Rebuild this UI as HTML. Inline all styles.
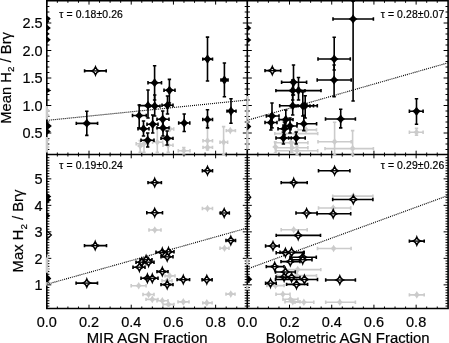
<!DOCTYPE html><html><head><meta charset="utf-8"><style>html,body{margin:0;padding:0;background:#fff;overflow:hidden}svg{display:block;will-change:transform}text{font-family:"Liberation Sans",sans-serif;fill:#000;stroke:#000;stroke-width:0.2px}</style></head><body>
<svg width="449" height="343" viewBox="0 0 449 343">
<rect width="449" height="343" fill="#fff"/>
<path d="M46.8 0.8v3.8M46.8 154.5v-3.8M46.8 154.5v3.8M46.8 308.5v-3.8M57.35 0.8v2.0M57.35 154.5v-2.0M57.35 154.5v2.0M57.35 308.5v-2.0M67.91 0.8v2.0M67.91 154.5v-2.0M67.91 154.5v2.0M67.91 308.5v-2.0M78.46 0.8v2.0M78.46 154.5v-2.0M78.46 154.5v2.0M78.46 308.5v-2.0M89.01 0.8v3.8M89.01 154.5v-3.8M89.01 154.5v3.8M89.01 308.5v-3.8M99.56 0.8v2.0M99.56 154.5v-2.0M99.56 154.5v2.0M99.56 308.5v-2.0M110.12 0.8v2.0M110.12 154.5v-2.0M110.12 154.5v2.0M110.12 308.5v-2.0M120.67 0.8v2.0M120.67 154.5v-2.0M120.67 154.5v2.0M120.67 308.5v-2.0M131.22 0.8v3.8M131.22 154.5v-3.8M131.22 154.5v3.8M131.22 308.5v-3.8M141.77 0.8v2.0M141.77 154.5v-2.0M141.77 154.5v2.0M141.77 308.5v-2.0M152.33 0.8v2.0M152.33 154.5v-2.0M152.33 154.5v2.0M152.33 308.5v-2.0M162.88 0.8v2.0M162.88 154.5v-2.0M162.88 154.5v2.0M162.88 308.5v-2.0M173.43 0.8v3.8M173.43 154.5v-3.8M173.43 154.5v3.8M173.43 308.5v-3.8M183.98 0.8v2.0M183.98 154.5v-2.0M183.98 154.5v2.0M183.98 308.5v-2.0M194.54 0.8v2.0M194.54 154.5v-2.0M194.54 154.5v2.0M194.54 308.5v-2.0M205.09 0.8v2.0M205.09 154.5v-2.0M205.09 154.5v2.0M205.09 308.5v-2.0M215.64 0.8v3.8M215.64 154.5v-3.8M215.64 154.5v3.8M215.64 308.5v-3.8M226.19 0.8v2.0M226.19 154.5v-2.0M226.19 154.5v2.0M226.19 308.5v-2.0M236.75 0.8v2.0M236.75 154.5v-2.0M236.75 154.5v2.0M236.75 308.5v-2.0M247.3 0.8v3.8M247.3 154.5v-3.8M247.3 154.5v3.8M247.3 308.5v-3.8M257.85 0.8v2.0M257.85 154.5v-2.0M257.85 154.5v2.0M257.85 308.5v-2.0M268.41 0.8v2.0M268.41 154.5v-2.0M268.41 154.5v2.0M268.41 308.5v-2.0M278.96 0.8v2.0M278.96 154.5v-2.0M278.96 154.5v2.0M278.96 308.5v-2.0M289.51 0.8v3.8M289.51 154.5v-3.8M289.51 154.5v3.8M289.51 308.5v-3.8M300.06 0.8v2.0M300.06 154.5v-2.0M300.06 154.5v2.0M300.06 308.5v-2.0M310.62 0.8v2.0M310.62 154.5v-2.0M310.62 154.5v2.0M310.62 308.5v-2.0M321.17 0.8v2.0M321.17 154.5v-2.0M321.17 154.5v2.0M321.17 308.5v-2.0M331.72 0.8v3.8M331.72 154.5v-3.8M331.72 154.5v3.8M331.72 308.5v-3.8M342.27 0.8v2.0M342.27 154.5v-2.0M342.27 154.5v2.0M342.27 308.5v-2.0M352.83 0.8v2.0M352.83 154.5v-2.0M352.83 154.5v2.0M352.83 308.5v-2.0M363.38 0.8v2.0M363.38 154.5v-2.0M363.38 154.5v2.0M363.38 308.5v-2.0M373.93 0.8v3.8M373.93 154.5v-3.8M373.93 154.5v3.8M373.93 308.5v-3.8M384.48 0.8v2.0M384.48 154.5v-2.0M384.48 154.5v2.0M384.48 308.5v-2.0M395.04 0.8v2.0M395.04 154.5v-2.0M395.04 154.5v2.0M395.04 308.5v-2.0M405.59 0.8v2.0M405.59 154.5v-2.0M405.59 154.5v2.0M405.59 308.5v-2.0M416.14 0.8v3.8M416.14 154.5v-3.8M416.14 154.5v3.8M416.14 308.5v-3.8M426.69 0.8v2.0M426.69 154.5v-2.0M426.69 154.5v2.0M426.69 308.5v-2.0M437.25 0.8v2.0M437.25 154.5v-2.0M437.25 154.5v2.0M437.25 308.5v-2.0M46.8 149.5h2.6M247.3 149.5h-2.6M247.3 149.5h2.6M448.1 149.5h-2.6M46.8 144h2.6M247.3 144h-2.6M247.3 144h2.6M448.1 144h-2.6M46.8 138.5h2.6M247.3 138.5h-2.6M247.3 138.5h2.6M448.1 138.5h-2.6M46.8 133h4.5M247.3 133h-4.5M247.3 133h4.5M448.1 133h-4.5M46.8 127.5h2.6M247.3 127.5h-2.6M247.3 127.5h2.6M448.1 127.5h-2.6M46.8 122h2.6M247.3 122h-2.6M247.3 122h2.6M448.1 122h-2.6M46.8 116.5h2.6M247.3 116.5h-2.6M247.3 116.5h2.6M448.1 116.5h-2.6M46.8 111h2.6M247.3 111h-2.6M247.3 111h2.6M448.1 111h-2.6M46.8 105.5h4.5M247.3 105.5h-4.5M247.3 105.5h4.5M448.1 105.5h-4.5M46.8 100h2.6M247.3 100h-2.6M247.3 100h2.6M448.1 100h-2.6M46.8 94.5h2.6M247.3 94.5h-2.6M247.3 94.5h2.6M448.1 94.5h-2.6M46.8 89h2.6M247.3 89h-2.6M247.3 89h2.6M448.1 89h-2.6M46.8 83.5h2.6M247.3 83.5h-2.6M247.3 83.5h2.6M448.1 83.5h-2.6M46.8 78h4.5M247.3 78h-4.5M247.3 78h4.5M448.1 78h-4.5M46.8 72.5h2.6M247.3 72.5h-2.6M247.3 72.5h2.6M448.1 72.5h-2.6M46.8 67h2.6M247.3 67h-2.6M247.3 67h2.6M448.1 67h-2.6M46.8 61.5h2.6M247.3 61.5h-2.6M247.3 61.5h2.6M448.1 61.5h-2.6M46.8 56h2.6M247.3 56h-2.6M247.3 56h2.6M448.1 56h-2.6M46.8 50.5h4.5M247.3 50.5h-4.5M247.3 50.5h4.5M448.1 50.5h-4.5M46.8 45h2.6M247.3 45h-2.6M247.3 45h2.6M448.1 45h-2.6M46.8 39.5h2.6M247.3 39.5h-2.6M247.3 39.5h2.6M448.1 39.5h-2.6M46.8 34h2.6M247.3 34h-2.6M247.3 34h2.6M448.1 34h-2.6M46.8 28.5h2.6M247.3 28.5h-2.6M247.3 28.5h2.6M448.1 28.5h-2.6M46.8 23h4.5M247.3 23h-4.5M247.3 23h4.5M448.1 23h-4.5M46.8 17.5h2.6M247.3 17.5h-2.6M247.3 17.5h2.6M448.1 17.5h-2.6M46.8 12h2.6M247.3 12h-2.6M247.3 12h2.6M448.1 12h-2.6M46.8 6.5h2.6M247.3 6.5h-2.6M247.3 6.5h2.6M448.1 6.5h-2.6M46.8 306.05h2.6M247.3 306.05h-2.6M247.3 306.05h2.6M448.1 306.05h-2.6M46.8 303.4h2.6M247.3 303.4h-2.6M247.3 303.4h2.6M448.1 303.4h-2.6M46.8 300.75h2.6M247.3 300.75h-2.6M247.3 300.75h2.6M448.1 300.75h-2.6M46.8 298.1h2.6M247.3 298.1h-2.6M247.3 298.1h2.6M448.1 298.1h-2.6M46.8 295.45h2.6M247.3 295.45h-2.6M247.3 295.45h2.6M448.1 295.45h-2.6M46.8 292.8h2.6M247.3 292.8h-2.6M247.3 292.8h2.6M448.1 292.8h-2.6M46.8 290.15h2.6M247.3 290.15h-2.6M247.3 290.15h2.6M448.1 290.15h-2.6M46.8 287.5h2.6M247.3 287.5h-2.6M247.3 287.5h2.6M448.1 287.5h-2.6M46.8 284.85h4.5M247.3 284.85h-4.5M247.3 284.85h4.5M448.1 284.85h-4.5M46.8 282.2h2.6M247.3 282.2h-2.6M247.3 282.2h2.6M448.1 282.2h-2.6M46.8 279.55h2.6M247.3 279.55h-2.6M247.3 279.55h2.6M448.1 279.55h-2.6M46.8 276.9h2.6M247.3 276.9h-2.6M247.3 276.9h2.6M448.1 276.9h-2.6M46.8 274.25h2.6M247.3 274.25h-2.6M247.3 274.25h2.6M448.1 274.25h-2.6M46.8 271.6h2.6M247.3 271.6h-2.6M247.3 271.6h2.6M448.1 271.6h-2.6M46.8 268.95h2.6M247.3 268.95h-2.6M247.3 268.95h2.6M448.1 268.95h-2.6M46.8 266.3h2.6M247.3 266.3h-2.6M247.3 266.3h2.6M448.1 266.3h-2.6M46.8 263.65h2.6M247.3 263.65h-2.6M247.3 263.65h2.6M448.1 263.65h-2.6M46.8 261h2.6M247.3 261h-2.6M247.3 261h2.6M448.1 261h-2.6M46.8 258.35h4.5M247.3 258.35h-4.5M247.3 258.35h4.5M448.1 258.35h-4.5M46.8 255.7h2.6M247.3 255.7h-2.6M247.3 255.7h2.6M448.1 255.7h-2.6M46.8 253.05h2.6M247.3 253.05h-2.6M247.3 253.05h2.6M448.1 253.05h-2.6M46.8 250.4h2.6M247.3 250.4h-2.6M247.3 250.4h2.6M448.1 250.4h-2.6M46.8 247.75h2.6M247.3 247.75h-2.6M247.3 247.75h2.6M448.1 247.75h-2.6M46.8 245.1h2.6M247.3 245.1h-2.6M247.3 245.1h2.6M448.1 245.1h-2.6M46.8 242.45h2.6M247.3 242.45h-2.6M247.3 242.45h2.6M448.1 242.45h-2.6M46.8 239.8h2.6M247.3 239.8h-2.6M247.3 239.8h2.6M448.1 239.8h-2.6M46.8 237.15h2.6M247.3 237.15h-2.6M247.3 237.15h2.6M448.1 237.15h-2.6M46.8 234.5h2.6M247.3 234.5h-2.6M247.3 234.5h2.6M448.1 234.5h-2.6M46.8 231.85h4.5M247.3 231.85h-4.5M247.3 231.85h4.5M448.1 231.85h-4.5M46.8 229.2h2.6M247.3 229.2h-2.6M247.3 229.2h2.6M448.1 229.2h-2.6M46.8 226.55h2.6M247.3 226.55h-2.6M247.3 226.55h2.6M448.1 226.55h-2.6M46.8 223.9h2.6M247.3 223.9h-2.6M247.3 223.9h2.6M448.1 223.9h-2.6M46.8 221.25h2.6M247.3 221.25h-2.6M247.3 221.25h2.6M448.1 221.25h-2.6M46.8 218.6h2.6M247.3 218.6h-2.6M247.3 218.6h2.6M448.1 218.6h-2.6M46.8 215.95h2.6M247.3 215.95h-2.6M247.3 215.95h2.6M448.1 215.95h-2.6M46.8 213.3h2.6M247.3 213.3h-2.6M247.3 213.3h2.6M448.1 213.3h-2.6M46.8 210.65h2.6M247.3 210.65h-2.6M247.3 210.65h2.6M448.1 210.65h-2.6M46.8 208h2.6M247.3 208h-2.6M247.3 208h2.6M448.1 208h-2.6M46.8 205.35h4.5M247.3 205.35h-4.5M247.3 205.35h4.5M448.1 205.35h-4.5M46.8 202.7h2.6M247.3 202.7h-2.6M247.3 202.7h2.6M448.1 202.7h-2.6M46.8 200.05h2.6M247.3 200.05h-2.6M247.3 200.05h2.6M448.1 200.05h-2.6M46.8 197.4h2.6M247.3 197.4h-2.6M247.3 197.4h2.6M448.1 197.4h-2.6M46.8 194.75h2.6M247.3 194.75h-2.6M247.3 194.75h2.6M448.1 194.75h-2.6M46.8 192.1h2.6M247.3 192.1h-2.6M247.3 192.1h2.6M448.1 192.1h-2.6M46.8 189.45h2.6M247.3 189.45h-2.6M247.3 189.45h2.6M448.1 189.45h-2.6M46.8 186.8h2.6M247.3 186.8h-2.6M247.3 186.8h2.6M448.1 186.8h-2.6M46.8 184.15h2.6M247.3 184.15h-2.6M247.3 184.15h2.6M448.1 184.15h-2.6M46.8 181.5h2.6M247.3 181.5h-2.6M247.3 181.5h2.6M448.1 181.5h-2.6M46.8 178.85h4.5M247.3 178.85h-4.5M247.3 178.85h4.5M448.1 178.85h-4.5M46.8 176.2h2.6M247.3 176.2h-2.6M247.3 176.2h2.6M448.1 176.2h-2.6M46.8 173.55h2.6M247.3 173.55h-2.6M247.3 173.55h2.6M448.1 173.55h-2.6M46.8 170.9h2.6M247.3 170.9h-2.6M247.3 170.9h2.6M448.1 170.9h-2.6M46.8 168.25h2.6M247.3 168.25h-2.6M247.3 168.25h2.6M448.1 168.25h-2.6M46.8 165.6h2.6M247.3 165.6h-2.6M247.3 165.6h2.6M448.1 165.6h-2.6M46.8 162.95h2.6M247.3 162.95h-2.6M247.3 162.95h2.6M448.1 162.95h-2.6M46.8 160.3h2.6M247.3 160.3h-2.6M247.3 160.3h2.6M448.1 160.3h-2.6M46.8 157.65h2.6M247.3 157.65h-2.6M247.3 157.65h2.6M448.1 157.65h-2.6" stroke="#000" stroke-width="1" fill="none"/>
<path d="M46.8 0.8H448.1V308.5H46.8ZM247.3 0.8V308.5M46.8 154.5H448.1" stroke="#000" stroke-width="1.6" fill="none"/>
<path d="M46.8 106V119.5M46.8 137V152.5M247.3 96V149.5M46.8 257.5V272.8M46.8 282V285.5M247.3 258.5V265M247.3 285V290" stroke="#cbcbcb" stroke-width="2.2" fill="none"/>
<path d="M46.8 120.4L247.3 100M247.3 120.3L448.1 62.8M46.8 284.3L247.3 228M247.3 269L448.1 195.5" stroke="#000" stroke-width="1.15" stroke-dasharray="1 1" fill="none"/>
<path d="M46.8 15.2L50.8 18.7L46.8 22.2Z" fill="#000"/>
<path d="M46.8 24.5L50.8 28L46.8 31.5Z" fill="#000"/>
<path d="M46.8 36.2L50.8 39.7L46.8 43.2Z" fill="#000"/>
<path d="M46.8 19.1L49.3 21.6L46.8 24.1Z" fill="#000"/>
<path d="M46.8 31.3L49.3 33.8L46.8 36.3Z" fill="#000"/>
<path d="M46.8 88L51.3 90.5L46.8 93Z" fill="#000"/>
<path d="M46.8 121.5L51.8 126L46.8 130.5Z" fill="#000"/>
<path d="M46.8 128L50.8 131.5L46.8 135Z" fill="#000"/>
<path d="M46.8 107.5L49.8 110.5L46.8 113.5Z" fill="#cbcbcb"/>
<path d="M46.8 112.2L49.8 115.2L46.8 118.2Z" fill="#cbcbcb"/>
<path d="M46.8 137L49.8 140L46.8 143Z" fill="#cbcbcb"/>
<path d="M46.8 144L49.8 147L46.8 150Z" fill="#cbcbcb"/>
<path d="M136.2 143.7H148.7M136.2 142V145.4M148.7 142V145.4" stroke="#cbcbcb" stroke-width="1.6" fill="none"/><path d="M144 140.6V152.3M142.3 140.6H145.7M142.3 152.3H145.7" stroke="#cbcbcb" stroke-width="1.6" fill="none"/><path d="M144 139.9Q145.12 142.37 147.2 143.7Q145.12 145.03 144 147.5Q142.88 145.03 140.8 143.7Q142.88 142.37 144 139.9Z" fill="#cbcbcb"/>
<path d="M140.2 140.6V152.3M138.5 140.6H141.9M138.5 152.3H141.9" stroke="#cbcbcb" stroke-width="1.6" fill="none"/><path d="M140.2 142.2Q141.32 144.67 143.4 146Q141.32 147.33 140.2 149.8Q139.08 147.33 137 146Q139.08 144.67 140.2 142.2Z" fill="#cbcbcb"/>
<path d="M152.6 142.2H162.7M152.6 140.5V143.9M162.7 140.5V143.9" stroke="#cbcbcb" stroke-width="1.6" fill="none"/><path d="M157.3 128V152.3M155.6 128H159M155.6 152.3H159" stroke="#cbcbcb" stroke-width="1.6" fill="none"/><path d="M157.3 138.4Q158.42 140.87 160.5 142.2Q158.42 143.53 157.3 146Q156.18 143.53 154.1 142.2Q156.18 140.87 157.3 138.4Z" fill="#cbcbcb"/>
<path d="M163 145.3H173M163 143.6V147M173 143.6V147" stroke="#cbcbcb" stroke-width="1.6" fill="none"/><path d="M168.2 140.5V152.3M166.5 140.5H169.9M166.5 152.3H169.9" stroke="#cbcbcb" stroke-width="1.6" fill="none"/><path d="M168.2 141.5Q169.32 143.97 171.4 145.3Q169.32 146.63 168.2 149.1Q167.08 146.63 165 145.3Q167.08 143.97 168.2 141.5Z" fill="#cbcbcb"/>
<path d="M178.3 150.7H190M178.3 149V152.4M190 149V152.4" stroke="#cbcbcb" stroke-width="1.6" fill="none"/><path d="M183.8 147.6V153.8M182.1 147.6H185.5M182.1 153.8H185.5" stroke="#cbcbcb" stroke-width="1.6" fill="none"/><path d="M183.8 146.9Q184.92 149.37 187 150.7Q184.92 152.03 183.8 154.5Q182.68 152.03 180.6 150.7Q182.68 149.37 183.8 146.9Z" fill="#cbcbcb"/>
<path d="M165.9 129H173.7M165.9 127.3V130.7M173.7 127.3V130.7" stroke="#cbcbcb" stroke-width="1.6" fill="none"/><path d="M169.8 125.2Q170.92 127.67 173 129Q170.92 130.33 169.8 132.8Q168.68 130.33 166.6 129Q168.68 127.67 169.8 125.2Z" fill="#cbcbcb"/>
<path d="M203 140.7H212.5M203 139V142.4M212.5 139V142.4" stroke="#cbcbcb" stroke-width="1.6" fill="none"/><path d="M207.5 126V150M205.8 126H209.2M205.8 150H209.2" stroke="#cbcbcb" stroke-width="1.6" fill="none"/><path d="M207.5 136.9Q208.62 139.37 210.7 140.7Q208.62 142.03 207.5 144.5Q206.38 142.03 204.3 140.7Q206.38 139.37 207.5 136.9Z" fill="#cbcbcb"/>
<path d="M203 147.4H212.5M203 145.7V149.1M212.5 145.7V149.1" stroke="#cbcbcb" stroke-width="1.6" fill="none"/><path d="M207.5 143.6Q208.62 146.07 210.7 147.4Q208.62 148.73 207.5 151.2Q206.38 148.73 204.3 147.4Q206.38 146.07 207.5 143.6Z" fill="#cbcbcb"/>
<path d="M226.3 130.6H235.4M226.3 128.9V132.3M235.4 128.9V132.3" stroke="#cbcbcb" stroke-width="1.6" fill="none"/><path d="M230.3 126.8Q231.42 129.27 233.5 130.6Q231.42 131.93 230.3 134.4Q229.18 131.93 227.1 130.6Q229.18 129.27 230.3 126.8Z" fill="#cbcbcb"/>
<path d="M220 142.3H227.6M220 140.6V144M227.6 140.6V144" stroke="#cbcbcb" stroke-width="1.6" fill="none"/><path d="M223.6 126.6V155M221.9 126.6H225.3M221.9 155H225.3" stroke="#cbcbcb" stroke-width="1.6" fill="none"/><path d="M223.6 138.5Q224.72 140.97 226.8 142.3Q224.72 143.63 223.6 146.1Q222.48 143.63 220.4 142.3Q222.48 140.97 223.6 138.5Z" fill="#cbcbcb"/>
<path d="M84.6 70.9H106.2M84.6 69.2V72.6M106.2 69.2V72.6" stroke="#000" stroke-width="1.6" fill="none"/><path d="M95.5 67Q96.51 69.81 99.1 70.9Q96.51 71.99 95.5 74.8Q94.49 71.99 91.9 70.9Q94.49 69.81 95.5 67Z" fill="#fff" stroke="#000" stroke-width="1.6"/><path d="M91.9 70.9H99.1" stroke="#000" stroke-width="1.3"/>
<path d="M76.3 123.4H97.6M76.3 121.7V125.1M97.6 121.7V125.1" stroke="#000" stroke-width="1.6" fill="none"/><path d="M86.8 111.3V135.4M85.1 111.3H88.5M85.1 135.4H88.5" stroke="#000" stroke-width="1.6" fill="none"/><path d="M86.8 118.6Q88.34 121.72 91.2 123.4Q88.34 125.08 86.8 128.2Q85.26 125.08 82.4 123.4Q85.26 121.72 86.8 118.6Z" fill="#000"/>
<path d="M148 82.7H161.5M148 81V84.4M161.5 81V84.4" stroke="#000" stroke-width="1.6" fill="none"/><path d="M154.6 65.8V100M152.9 65.8H156.3M152.9 100H156.3" stroke="#000" stroke-width="1.6" fill="none"/><path d="M154.6 77.9Q156.14 81.02 159 82.7Q156.14 84.38 154.6 87.5Q153.06 84.38 150.2 82.7Q153.06 81.02 154.6 77.9Z" fill="#000"/>
<path d="M164 90.3H175M164 88.6V92M175 88.6V92" stroke="#000" stroke-width="1.6" fill="none"/><path d="M169.4 79.4V103M167.7 79.4H171.1M167.7 103H171.1" stroke="#000" stroke-width="1.6" fill="none"/><path d="M169.4 85.5Q170.94 88.62 173.8 90.3Q170.94 91.98 169.4 95.1Q167.86 91.98 165 90.3Q167.86 88.62 169.4 85.5Z" fill="#000"/>
<path d="M139.4 105.6H154.6M139.4 103.9V107.3M154.6 103.9V107.3" stroke="#000" stroke-width="1.6" fill="none"/><path d="M148 90V118M146.3 90H149.7M146.3 118H149.7" stroke="#000" stroke-width="1.6" fill="none"/><path d="M148 100.8Q149.54 103.92 152.4 105.6Q149.54 107.28 148 110.4Q146.46 107.28 143.6 105.6Q146.46 103.92 148 100.8Z" fill="#000"/>
<path d="M150 106.1H160M150 104.4V107.8M160 104.4V107.8" stroke="#000" stroke-width="1.6" fill="none"/><path d="M154.7 95V116M153 95H156.4M153 116H156.4" stroke="#000" stroke-width="1.6" fill="none"/><path d="M154.7 101.3Q156.24 104.42 159.1 106.1Q156.24 107.78 154.7 110.9Q153.16 107.78 150.3 106.1Q153.16 104.42 154.7 101.3Z" fill="#000"/>
<path d="M162 105.3H173M162 103.6V107M173 103.6V107" stroke="#000" stroke-width="1.6" fill="none"/><path d="M167.5 96V114M165.8 96H169.2M165.8 114H169.2" stroke="#000" stroke-width="1.6" fill="none"/><path d="M167.5 100.5Q169.04 103.62 171.9 105.3Q169.04 106.98 167.5 110.1Q165.96 106.98 163.1 105.3Q165.96 103.62 167.5 100.5Z" fill="#000"/>
<path d="M132.5 115.5H146.3M132.5 113.8V117.2M146.3 113.8V117.2" stroke="#000" stroke-width="1.6" fill="none"/><path d="M139.2 105V128M137.5 105H140.9M137.5 128H140.9" stroke="#000" stroke-width="1.6" fill="none"/><path d="M139.2 110.7Q140.74 113.82 143.6 115.5Q140.74 117.18 139.2 120.3Q137.66 117.18 134.8 115.5Q137.66 113.82 139.2 110.7Z" fill="#000"/>
<path d="M147 124.3H158M147 122.6V126M158 122.6V126" stroke="#000" stroke-width="1.6" fill="none"/><path d="M152.7 115V133M151 115H154.4M151 133H154.4" stroke="#000" stroke-width="1.6" fill="none"/><path d="M152.7 119.5Q154.24 122.62 157.1 124.3Q154.24 125.98 152.7 129.1Q151.16 125.98 148.3 124.3Q151.16 122.62 152.7 119.5Z" fill="#000"/>
<path d="M157 119.3H169M157 117.6V121M169 117.6V121" stroke="#000" stroke-width="1.6" fill="none"/><path d="M162.7 111V127M161 111H164.4M161 127H164.4" stroke="#000" stroke-width="1.6" fill="none"/><path d="M162.7 114.5Q164.24 117.62 167.1 119.3Q164.24 120.98 162.7 124.1Q161.16 120.98 158.3 119.3Q161.16 117.62 162.7 114.5Z" fill="#000"/>
<path d="M157 127.9H169M157 126.2V129.6M169 126.2V129.6" stroke="#000" stroke-width="1.6" fill="none"/><path d="M163 120V136M161.3 120H164.7M161.3 136H164.7" stroke="#000" stroke-width="1.6" fill="none"/><path d="M163 123.1Q164.54 126.22 167.4 127.9Q164.54 129.58 163 132.7Q161.46 129.58 158.6 127.9Q161.46 126.22 163 123.1Z" fill="#000"/>
<path d="M138 128.7H149M138 127V130.4M149 127V130.4" stroke="#000" stroke-width="1.6" fill="none"/><path d="M143.5 121V136M141.8 121H145.2M141.8 136H145.2" stroke="#000" stroke-width="1.6" fill="none"/><path d="M143.5 123.9Q145.04 127.02 147.9 128.7Q145.04 130.38 143.5 133.5Q141.96 130.38 139.1 128.7Q141.96 127.02 143.5 123.9Z" fill="#000"/>
<path d="M141 140.3H154M141 138.6V142M154 138.6V142" stroke="#000" stroke-width="1.6" fill="none"/><path d="M147.7 133V147M146 133H149.4M146 147H149.4" stroke="#000" stroke-width="1.6" fill="none"/><path d="M147.7 135.5Q149.24 138.62 152.1 140.3Q149.24 141.98 147.7 145.1Q146.16 141.98 143.3 140.3Q146.16 138.62 147.7 135.5Z" fill="#000"/>
<path d="M161 138.4H173M161 136.7V140.1M173 136.7V140.1" stroke="#000" stroke-width="1.6" fill="none"/><path d="M167.1 131V145M165.4 131H168.8M165.4 145H168.8" stroke="#000" stroke-width="1.6" fill="none"/><path d="M167.1 133.6Q168.64 136.72 171.5 138.4Q168.64 140.08 167.1 143.2Q165.56 140.08 162.7 138.4Q165.56 136.72 167.1 133.6Z" fill="#000"/>
<path d="M178.7 123H189.8M178.7 121.3V124.7M189.8 121.3V124.7" stroke="#000" stroke-width="1.6" fill="none"/><path d="M184.2 114V131.5M182.5 114H185.9M182.5 131.5H185.9" stroke="#000" stroke-width="1.6" fill="none"/><path d="M184.2 118.2Q185.74 121.32 188.6 123Q185.74 124.68 184.2 127.8Q182.66 124.68 179.8 123Q182.66 121.32 184.2 118.2Z" fill="#000"/>
<path d="M202.8 59.1H212.5M202.8 57.4V60.8M212.5 57.4V60.8" stroke="#000" stroke-width="1.6" fill="none"/><path d="M207.5 37.1V81M205.8 37.1H209.2M205.8 81H209.2" stroke="#000" stroke-width="1.6" fill="none"/><path d="M207.5 54.3Q209.04 57.42 211.9 59.1Q209.04 60.78 207.5 63.9Q205.96 60.78 203.1 59.1Q205.96 57.42 207.5 54.3Z" fill="#000"/>
<path d="M221 80H228M221 78.3V81.7M228 78.3V81.7" stroke="#000" stroke-width="1.6" fill="none"/><path d="M224.4 63V96.7M222.7 63H226.1M222.7 96.7H226.1" stroke="#000" stroke-width="1.6" fill="none"/><path d="M224.4 75.2Q225.94 78.32 228.8 80Q225.94 81.68 224.4 84.8Q222.86 81.68 220 80Q222.86 78.32 224.4 75.2Z" fill="#000"/>
<path d="M227 111.1H236M227 109.4V112.8M236 109.4V112.8" stroke="#000" stroke-width="1.6" fill="none"/><path d="M231 98.7V123.2M229.3 98.7H232.7M229.3 123.2H232.7" stroke="#000" stroke-width="1.6" fill="none"/><path d="M231 106.3Q232.54 109.42 235.4 111.1Q232.54 112.78 231 115.9Q229.46 112.78 226.6 111.1Q229.46 109.42 231 106.3Z" fill="#000"/>
<path d="M202.8 119.5H212.5M202.8 117.8V121.2M212.5 117.8V121.2" stroke="#000" stroke-width="1.6" fill="none"/><path d="M207.5 109.8V127.9M205.8 109.8H209.2M205.8 127.9H209.2" stroke="#000" stroke-width="1.6" fill="none"/><path d="M207.5 114.7Q209.04 117.82 211.9 119.5Q209.04 121.18 207.5 124.3Q205.96 121.18 203.1 119.5Q205.96 117.82 207.5 114.7Z" fill="#000"/>
<path d="M247.3 122.5L251.3 126.5L247.3 130.5Z" fill="#000"/>
<path d="M247.3 24.5L251.3 28L247.3 31.5Z" fill="#000"/>
<path d="M247.3 36.4L251.3 39.9L247.3 43.4Z" fill="#000"/>
<path d="M318 141.7H351.2M318 140V143.4M351.2 140V143.4" stroke="#cbcbcb" stroke-width="1.6" fill="none"/><path d="M334.6 122.3V155M332.9 122.3H336.3M332.9 155H336.3" stroke="#cbcbcb" stroke-width="1.6" fill="none"/><path d="M334.6 137.9Q335.72 140.37 337.8 141.7Q335.72 143.03 334.6 145.5Q333.48 143.03 331.4 141.7Q333.48 140.37 334.6 137.9Z" fill="#cbcbcb"/>
<path d="M325 148.6H373.4M325 146.9V150.3M373.4 146.9V150.3" stroke="#cbcbcb" stroke-width="1.6" fill="none"/><path d="M352.6 130.6V155M350.9 130.6H354.3M350.9 155H354.3" stroke="#cbcbcb" stroke-width="1.6" fill="none"/><path d="M352.6 144.8Q353.72 147.27 355.8 148.6Q353.72 149.93 352.6 152.4Q351.48 149.93 349.4 148.6Q351.48 147.27 352.6 144.8Z" fill="#cbcbcb"/>
<path d="M409.4 132.2H423.1M409.4 130.5V133.9M423.1 130.5V133.9" stroke="#cbcbcb" stroke-width="1.6" fill="none"/><path d="M416.5 128.4V135.3M414.8 128.4H418.2M414.8 135.3H418.2" stroke="#cbcbcb" stroke-width="1.6" fill="none"/><path d="M416.5 128.4Q417.62 130.87 419.7 132.2Q417.62 133.53 416.5 136Q415.38 133.53 413.3 132.2Q415.38 130.87 416.5 128.4Z" fill="#cbcbcb"/>
<path d="M298 129.9H316.5M298 128.2V131.6M316.5 128.2V131.6" stroke="#cbcbcb" stroke-width="1.6" fill="none"/><path d="M306 126.1Q307.12 128.57 309.2 129.9Q307.12 131.23 306 133.7Q304.88 131.23 302.8 129.9Q304.88 128.57 306 126.1Z" fill="#cbcbcb"/>
<path d="M274.8 133.6H317.7M274.8 131.9V135.3M317.7 131.9V135.3" stroke="#cbcbcb" stroke-width="1.6" fill="none"/><path d="M296 129.8Q297.12 132.27 299.2 133.6Q297.12 134.93 296 137.4Q294.88 134.93 292.8 133.6Q294.88 132.27 296 129.8Z" fill="#cbcbcb"/>
<path d="M274.8 142.8H307.9M274.8 141.1V144.5M307.9 141.1V144.5" stroke="#cbcbcb" stroke-width="1.6" fill="none"/><path d="M291 138V153M289.3 138H292.7M289.3 153H292.7" stroke="#cbcbcb" stroke-width="1.6" fill="none"/><path d="M291 139Q292.12 141.47 294.2 142.8Q292.12 144.13 291 146.6Q289.88 144.13 287.8 142.8Q289.88 141.47 291 139Z" fill="#cbcbcb"/>
<path d="M276 147.7H307.9M276 146V149.4M307.9 146V149.4" stroke="#cbcbcb" stroke-width="1.6" fill="none"/><path d="M292 142V153M290.3 142H293.7M290.3 153H293.7" stroke="#cbcbcb" stroke-width="1.6" fill="none"/><path d="M292 143.9Q293.12 146.37 295.2 147.7Q293.12 149.03 292 151.5Q290.88 149.03 288.8 147.7Q290.88 146.37 292 143.9Z" fill="#cbcbcb"/>
<path d="M276 150.7H317.7M276 149V152.4M317.7 149V152.4" stroke="#cbcbcb" stroke-width="1.6" fill="none"/><path d="M297 146V155M295.3 146H298.7M295.3 155H298.7" stroke="#cbcbcb" stroke-width="1.6" fill="none"/><path d="M297 146.9Q298.12 149.37 300.2 150.7Q298.12 152.03 297 154.5Q295.88 152.03 293.8 150.7Q295.88 149.37 297 146.9Z" fill="#cbcbcb"/>
<path d="M275.4 142V153M273.7 142H277.1M273.7 153H277.1" stroke="#cbcbcb" stroke-width="1.6" fill="none"/><path d="M275.4 143.2Q276.52 145.67 278.6 147Q276.52 148.33 275.4 150.8Q274.28 148.33 272.2 147Q274.28 145.67 275.4 143.2Z" fill="#cbcbcb"/>
<path d="M265 70.6H280.7M265 68.9V72.3M280.7 68.9V72.3" stroke="#000" stroke-width="1.6" fill="none"/><path d="M272.3 66.7Q273.31 69.51 275.9 70.6Q273.31 71.69 272.3 74.5Q271.29 71.69 268.7 70.6Q271.29 69.51 272.3 66.7Z" fill="#fff" stroke="#000" stroke-width="1.6"/><path d="M268.7 70.6H275.9" stroke="#000" stroke-width="1.3"/>
<path d="M333 19H373.4M333 17.3V20.7M373.4 17.3V20.7" stroke="#000" stroke-width="1.6" fill="none"/><path d="M353.1 1.2V101M351.4 1.2H354.8M351.4 101H354.8" stroke="#000" stroke-width="1.6" fill="none"/><path d="M353.1 14.2Q354.64 17.32 357.5 19Q354.64 20.68 353.1 23.8Q351.56 20.68 348.7 19Q351.56 17.32 353.1 14.2Z" fill="#000"/>
<path d="M318 59H350.3M318 57.3V60.7M350.3 57.3V60.7" stroke="#000" stroke-width="1.6" fill="none"/><path d="M334.2 37.2V70M332.5 37.2H335.9M332.5 70H335.9" stroke="#000" stroke-width="1.6" fill="none"/><path d="M334.2 54.2Q335.74 57.32 338.6 59Q335.74 60.68 334.2 63.8Q332.66 60.68 329.8 59Q332.66 57.32 334.2 54.2Z" fill="#000"/>
<path d="M317.2 80H351.2M317.2 78.3V81.7M351.2 78.3V81.7" stroke="#000" stroke-width="1.6" fill="none"/><path d="M334.1 65V96.6M332.4 65H335.8M332.4 96.6H335.8" stroke="#000" stroke-width="1.6" fill="none"/><path d="M334.1 75.2Q335.64 78.32 338.5 80Q335.64 81.68 334.1 84.8Q332.56 81.68 329.7 80Q332.56 78.32 334.1 75.2Z" fill="#000"/>
<path d="M325.5 119H355.4M325.5 117.3V120.7M355.4 117.3V120.7" stroke="#000" stroke-width="1.6" fill="none"/><path d="M340.7 109.3V127.9M339 109.3H342.4M339 127.9H342.4" stroke="#000" stroke-width="1.6" fill="none"/><path d="M340.7 114.2Q342.24 117.32 345.1 119Q342.24 120.68 340.7 123.8Q339.16 120.68 336.3 119Q339.16 117.32 340.7 114.2Z" fill="#000"/>
<path d="M409.4 111.3H423.1M409.4 109.6V113M423.1 109.6V113" stroke="#000" stroke-width="1.6" fill="none"/><path d="M416.5 98.7V124.3M414.8 98.7H418.2M414.8 124.3H418.2" stroke="#000" stroke-width="1.6" fill="none"/><path d="M416.5 106.5Q418.04 109.62 420.9 111.3Q418.04 112.98 416.5 116.1Q414.96 112.98 412.1 111.3Q414.96 109.62 416.5 106.5Z" fill="#000"/>
<path d="M281.6 82.2H306.6M281.6 80.5V83.9M306.6 80.5V83.9" stroke="#000" stroke-width="1.6" fill="none"/><path d="M293.5 65V95M291.8 65H295.2M291.8 95H295.2" stroke="#000" stroke-width="1.6" fill="none"/><path d="M293.5 77.4Q295.04 80.52 297.9 82.2Q295.04 83.88 293.5 87Q291.96 83.88 289.1 82.2Q291.96 80.52 293.5 77.4Z" fill="#000"/>
<path d="M275.9 90.6H321M275.9 88.9V92.3M321 88.9V92.3" stroke="#000" stroke-width="1.6" fill="none"/><path d="M292.7 80V100M291 80H294.4M291 100H294.4" stroke="#000" stroke-width="1.6" fill="none"/><path d="M292.7 85.8Q294.24 88.92 297.1 90.6Q294.24 92.28 292.7 95.4Q291.16 92.28 288.3 90.6Q291.16 88.92 292.7 85.8Z" fill="#000"/>
<path d="M292 90.6H305M292 88.9V92.3M305 88.9V92.3" stroke="#000" stroke-width="1.6" fill="none"/><path d="M298.5 77.5V100M296.8 77.5H300.2M296.8 100H300.2" stroke="#000" stroke-width="1.6" fill="none"/><path d="M298.5 85.8Q300.04 88.92 302.9 90.6Q300.04 92.28 298.5 95.4Q296.96 92.28 294.1 90.6Q296.96 88.92 298.5 85.8Z" fill="#000"/>
<path d="M279.7 105.7H313.5M279.7 104V107.4M313.5 104V107.4" stroke="#000" stroke-width="1.6" fill="none"/><path d="M292.7 95V115M291 95H294.4M291 115H294.4" stroke="#000" stroke-width="1.6" fill="none"/><path d="M292.7 100.9Q294.24 104.02 297.1 105.7Q294.24 107.38 292.7 110.5Q291.16 107.38 288.3 105.7Q291.16 104.02 292.7 100.9Z" fill="#000"/>
<path d="M298 105.7H317.3M298 104V107.4M317.3 104V107.4" stroke="#000" stroke-width="1.6" fill="none"/><path d="M305.2 95.7V118M303.5 95.7H306.9M303.5 118H306.9" stroke="#000" stroke-width="1.6" fill="none"/><path d="M305.2 100.9Q306.74 104.02 309.6 105.7Q306.74 107.38 305.2 110.5Q303.66 107.38 300.8 105.7Q303.66 104.02 305.2 100.9Z" fill="#000"/>
<path d="M296 106H310M296 104.3V107.7M310 104.3V107.7" stroke="#000" stroke-width="1.6" fill="none"/><path d="M302.8 92V116M301.1 92H304.5M301.1 116H304.5" stroke="#000" stroke-width="1.6" fill="none"/><path d="M302.8 101.2Q304.34 104.32 307.2 106Q304.34 107.68 302.8 110.8Q301.26 107.68 298.4 106Q301.26 104.32 302.8 101.2Z" fill="#000"/>
<path d="M266.4 116H279M266.4 114.3V117.7M279 114.3V117.7" stroke="#000" stroke-width="1.6" fill="none"/><path d="M272 103V127.9M270.3 103H273.7M270.3 127.9H273.7" stroke="#000" stroke-width="1.6" fill="none"/><path d="M272 111.2Q273.54 114.32 276.4 116Q273.54 117.68 272 120.8Q270.46 117.68 267.6 116Q270.46 114.32 272 111.2Z" fill="#000"/>
<path d="M279 119.6H293M279 117.9V121.3M293 117.9V121.3" stroke="#000" stroke-width="1.6" fill="none"/><path d="M285.8 110V128M284.1 110H287.5M284.1 128H287.5" stroke="#000" stroke-width="1.6" fill="none"/><path d="M285.8 114.8Q287.34 117.92 290.2 119.6Q287.34 121.28 285.8 124.4Q284.26 121.28 281.4 119.6Q284.26 117.92 285.8 114.8Z" fill="#000"/>
<path d="M265 122.5H277M265 120.8V124.2M277 120.8V124.2" stroke="#000" stroke-width="1.6" fill="none"/><path d="M270.9 116V130M269.2 116H272.6M269.2 130H272.6" stroke="#000" stroke-width="1.6" fill="none"/><path d="M270.9 117.7Q272.44 120.82 275.3 122.5Q272.44 124.18 270.9 127.3Q269.36 124.18 266.5 122.5Q269.36 120.82 270.9 117.7Z" fill="#000"/>
<path d="M283 126H297M283 124.3V127.7M297 124.3V127.7" stroke="#000" stroke-width="1.6" fill="none"/><path d="M290 118V133M288.3 118H291.7M288.3 133H291.7" stroke="#000" stroke-width="1.6" fill="none"/><path d="M290 121.2Q291.54 124.32 294.4 126Q291.54 127.68 290 130.8Q288.46 127.68 285.6 126Q288.46 124.32 290 121.2Z" fill="#000"/>
<path d="M278 128.7H291M278 127V130.4M291 127V130.4" stroke="#000" stroke-width="1.6" fill="none"/><path d="M284.4 122V135M282.7 122H286.1M282.7 135H286.1" stroke="#000" stroke-width="1.6" fill="none"/><path d="M284.4 123.9Q285.94 127.02 288.8 128.7Q285.94 130.38 284.4 133.5Q282.86 130.38 280 128.7Q282.86 127.02 284.4 123.9Z" fill="#000"/>
<path d="M297 123.7H316.6M297 122V125.4M316.6 122V125.4" stroke="#000" stroke-width="1.6" fill="none"/><path d="M303.8 115.4V130.6M302.1 115.4H305.5M302.1 130.6H305.5" stroke="#000" stroke-width="1.6" fill="none"/><path d="M303.8 118.9Q305.34 122.02 308.2 123.7Q305.34 125.38 303.8 128.5Q302.26 125.38 299.4 123.7Q302.26 122.02 303.8 118.9Z" fill="#000"/>
<path d="M276 138H291.3M276 136.3V139.7M291.3 136.3V139.7" stroke="#000" stroke-width="1.6" fill="none"/><path d="M283.4 132V144M281.7 132H285.1M281.7 144H285.1" stroke="#000" stroke-width="1.6" fill="none"/><path d="M283.4 133.2Q284.94 136.32 287.8 138Q284.94 139.68 283.4 142.8Q281.86 139.68 279 138Q281.86 136.32 283.4 133.2Z" fill="#000"/>
<path d="M288.6 138H305.2M288.6 136.3V139.7M305.2 136.3V139.7" stroke="#000" stroke-width="1.6" fill="none"/><path d="M296.2 132V144M294.5 132H297.9M294.5 144H297.9" stroke="#000" stroke-width="1.6" fill="none"/><path d="M296.2 133.2Q297.74 136.32 300.6 138Q297.74 139.68 296.2 142.8Q294.66 139.68 291.8 138Q294.66 136.32 296.2 133.2Z" fill="#000"/>
<path d="M46.8 254L49.8 257L46.8 260Z" fill="#cbcbcb"/>
<path d="M46.8 266.5L49.8 269.5L46.8 272.5Z" fill="#cbcbcb"/>
<path d="M46.8 230.7L51.4 235L46.8 239.3" fill="none" stroke="#000" stroke-width="1.2"/>
<path d="M46.8 193L51.3 196.5L46.8 200Z" fill="#000"/>
<path d="M46.8 196.5L51.3 200L46.8 203.5Z" fill="#000"/>
<path d="M46.8 212.7L50.3 215.7L46.8 218.7Z" fill="#000"/>
<path d="M46.8 274.1L51.3 278.6L46.8 283.1Z" fill="#000"/>
<path d="M149 230H161M149 228.3V231.7M161 228.3V231.7" stroke="#cbcbcb" stroke-width="1.6" fill="none"/><path d="M154.8 226.2Q155.92 228.67 158 230Q155.92 231.33 154.8 233.8Q153.68 231.33 151.6 230Q153.68 228.67 154.8 226.2Z" fill="#cbcbcb"/>
<path d="M202.4 208.5H212.5M202.4 206.8V210.2M212.5 206.8V210.2" stroke="#cbcbcb" stroke-width="1.6" fill="none"/><path d="M207.5 204.7Q208.62 207.17 210.7 208.5Q208.62 209.83 207.5 212.3Q206.38 209.83 204.3 208.5Q206.38 207.17 207.5 204.7Z" fill="#cbcbcb"/>
<path d="M220 248.2H229M220 246.5V249.9M229 246.5V249.9" stroke="#cbcbcb" stroke-width="1.6" fill="none"/><path d="M224.5 244.4Q225.62 246.87 227.7 248.2Q225.62 249.53 224.5 252Q223.38 249.53 221.3 248.2Q223.38 246.87 224.5 244.4Z" fill="#cbcbcb"/>
<path d="M226 294.1H235M226 292.4V295.8M235 292.4V295.8" stroke="#cbcbcb" stroke-width="1.6" fill="none"/><path d="M230.8 290.3Q231.92 292.77 234 294.1Q231.92 295.43 230.8 297.9Q229.68 295.43 227.6 294.1Q229.68 292.77 230.8 290.3Z" fill="#cbcbcb"/>
<path d="M202.8 302.9H212.1M202.8 301.2V304.6M212.1 301.2V304.6" stroke="#cbcbcb" stroke-width="1.6" fill="none"/><path d="M206.8 299.1Q207.92 301.57 210 302.9Q207.92 304.23 206.8 306.7Q205.68 304.23 203.6 302.9Q205.68 301.57 206.8 299.1Z" fill="#cbcbcb"/>
<path d="M131.2 285.8H146.1M131.2 284.1V287.5M146.1 284.1V287.5" stroke="#cbcbcb" stroke-width="1.6" fill="none"/><path d="M138.7 282Q139.82 284.47 141.9 285.8Q139.82 287.13 138.7 289.6Q137.58 287.13 135.5 285.8Q137.58 284.47 138.7 282Z" fill="#cbcbcb"/>
<path d="M143 294.5H154M143 292.8V296.2M154 292.8V296.2" stroke="#cbcbcb" stroke-width="1.6" fill="none"/><path d="M148.6 290.7Q149.72 293.17 151.8 294.5Q149.72 295.83 148.6 298.3Q147.48 295.83 145.4 294.5Q147.48 293.17 148.6 290.7Z" fill="#cbcbcb"/>
<path d="M146 299.4H158M146 297.7V301.1M158 297.7V301.1" stroke="#cbcbcb" stroke-width="1.6" fill="none"/><path d="M152.3 295.6Q153.42 298.07 155.5 299.4Q153.42 300.73 152.3 303.2Q151.18 300.73 149.1 299.4Q151.18 298.07 152.3 295.6Z" fill="#cbcbcb"/>
<path d="M157 300.7H168M157 299V302.4M168 299V302.4" stroke="#cbcbcb" stroke-width="1.6" fill="none"/><path d="M162.3 296.9Q163.42 299.37 165.5 300.7Q163.42 302.03 162.3 304.5Q161.18 302.03 159.1 300.7Q161.18 299.37 162.3 296.9Z" fill="#cbcbcb"/>
<path d="M163 304.4H174M163 302.7V306.1M174 302.7V306.1" stroke="#cbcbcb" stroke-width="1.6" fill="none"/><path d="M168.5 300.6Q169.62 303.07 171.7 304.4Q169.62 305.73 168.5 308.2Q167.38 305.73 165.3 304.4Q167.38 303.07 168.5 300.6Z" fill="#cbcbcb"/>
<path d="M165 275.9H175M165 274.2V277.6M175 274.2V277.6" stroke="#cbcbcb" stroke-width="1.6" fill="none"/><path d="M169.7 272.1Q170.82 274.57 172.9 275.9Q170.82 277.23 169.7 279.7Q168.58 277.23 166.5 275.9Q168.58 274.57 169.7 272.1Z" fill="#cbcbcb"/>
<path d="M162 280.8H172M162 279.1V282.5M172 279.1V282.5" stroke="#cbcbcb" stroke-width="1.6" fill="none"/><path d="M167.2 277Q168.32 279.47 170.4 280.8Q168.32 282.13 167.2 284.6Q166.08 282.13 164 280.8Q166.08 279.47 167.2 277Z" fill="#cbcbcb"/>
<path d="M178 301.9H189M178 300.2V303.6M189 300.2V303.6" stroke="#cbcbcb" stroke-width="1.6" fill="none"/><path d="M183.3 298.1Q184.42 300.57 186.5 301.9Q184.42 303.23 183.3 305.7Q182.18 303.23 180.1 301.9Q182.18 300.57 183.3 298.1Z" fill="#cbcbcb"/>
<path d="M84.5 245.6H106.5M84.5 243.9V247.3M106.5 243.9V247.3" stroke="#000" stroke-width="1.6" fill="none"/><path d="M95.2 241.7Q96.21 244.51 98.8 245.6Q96.21 246.69 95.2 249.5Q94.19 246.69 91.6 245.6Q94.19 244.51 95.2 241.7Z" fill="#fff" stroke="#000" stroke-width="1.6"/><path d="M91.6 245.6H98.8" stroke="#000" stroke-width="1.3"/>
<path d="M76.1 283.1H97.5M76.1 281.4V284.8M97.5 281.4V284.8" stroke="#000" stroke-width="1.6" fill="none"/><path d="M86.8 279.2Q87.81 282.01 90.4 283.1Q87.81 284.19 86.8 287Q85.79 284.19 83.2 283.1Q85.79 282.01 86.8 279.2Z" fill="#fff" stroke="#000" stroke-width="1.6"/><path d="M83.2 283.1H90.4" stroke="#000" stroke-width="1.3"/>
<path d="M148 182.6H161.4M148 180.9V184.3M161.4 180.9V184.3" stroke="#000" stroke-width="1.6" fill="none"/><path d="M154.7 178.7Q155.71 181.51 158.3 182.6Q155.71 183.69 154.7 186.5Q153.69 183.69 151.1 182.6Q153.69 181.51 154.7 178.7Z" fill="#fff" stroke="#000" stroke-width="1.6"/><path d="M151.1 182.6H158.3" stroke="#000" stroke-width="1.3"/>
<path d="M146.8 212.7H162.5M146.8 211V214.4M162.5 211V214.4" stroke="#000" stroke-width="1.6" fill="none"/><path d="M154.7 208.8Q155.71 211.61 158.3 212.7Q155.71 213.79 154.7 216.6Q153.69 213.79 151.1 212.7Q153.69 211.61 154.7 208.8Z" fill="#fff" stroke="#000" stroke-width="1.6"/><path d="M151.1 212.7H158.3" stroke="#000" stroke-width="1.3"/>
<path d="M202.4 170.7H212.5M202.4 169V172.4M212.5 169V172.4" stroke="#000" stroke-width="1.6" fill="none"/><path d="M207.5 166.8Q208.51 169.61 211.1 170.7Q208.51 171.79 207.5 174.6Q206.49 171.79 203.9 170.7Q206.49 169.61 207.5 166.8Z" fill="#fff" stroke="#000" stroke-width="1.6"/><path d="M203.9 170.7H211.1" stroke="#000" stroke-width="1.3"/>
<path d="M220.3 213H229.3M220.3 211.3V214.7M229.3 211.3V214.7" stroke="#000" stroke-width="1.6" fill="none"/><path d="M224.2 209.1Q225.21 211.91 227.8 213Q225.21 214.09 224.2 216.9Q223.19 214.09 220.6 213Q223.19 211.91 224.2 209.1Z" fill="#fff" stroke="#000" stroke-width="1.6"/><path d="M220.6 213H227.8" stroke="#000" stroke-width="1.3"/>
<path d="M226 240.5H235.5M226 238.8V242.2M235.5 238.8V242.2" stroke="#000" stroke-width="1.6" fill="none"/><path d="M230.8 236.6Q231.81 239.41 234.4 240.5Q231.81 241.59 230.8 244.4Q229.79 241.59 227.2 240.5Q229.79 239.41 230.8 236.6Z" fill="#fff" stroke="#000" stroke-width="1.6"/><path d="M227.2 240.5H234.4" stroke="#000" stroke-width="1.3"/>
<path d="M202.1 279.7H212.1M202.1 278V281.4M212.1 278V281.4" stroke="#000" stroke-width="1.6" fill="none"/><path d="M206.8 275.8Q207.81 278.61 210.4 279.7Q207.81 280.79 206.8 283.6Q205.79 280.79 203.2 279.7Q205.79 278.61 206.8 275.8Z" fill="#fff" stroke="#000" stroke-width="1.6"/><path d="M203.2 279.7H210.4" stroke="#000" stroke-width="1.3"/>
<path d="M156 252.3H168M156 250.6V254M168 250.6V254" stroke="#000" stroke-width="1.6" fill="none"/><path d="M162.3 248.4Q163.31 251.21 165.9 252.3Q163.31 253.39 162.3 256.2Q161.29 253.39 158.7 252.3Q161.29 251.21 162.3 248.4Z" fill="#fff" stroke="#000" stroke-width="1.6"/><path d="M158.7 252.3H165.9" stroke="#000" stroke-width="1.3"/>
<path d="M163 251.8H174M163 250.1V253.5M174 250.1V253.5" stroke="#000" stroke-width="1.6" fill="none"/><path d="M168.5 247.9Q169.51 250.71 172.1 251.8Q169.51 252.89 168.5 255.7Q167.49 252.89 164.9 251.8Q167.49 250.71 168.5 247.9Z" fill="#fff" stroke="#000" stroke-width="1.6"/><path d="M164.9 251.8H172.1" stroke="#000" stroke-width="1.3"/>
<path d="M161 256.8H173M161 255.1V258.5M173 255.1V258.5" stroke="#000" stroke-width="1.6" fill="none"/><path d="M167.2 252.9Q168.21 255.71 170.8 256.8Q168.21 257.89 167.2 260.7Q166.19 257.89 163.6 256.8Q166.19 255.71 167.2 252.9Z" fill="#fff" stroke="#000" stroke-width="1.6"/><path d="M163.6 256.8H170.8" stroke="#000" stroke-width="1.3"/>
<path d="M140 259.7H152M140 258V261.4M152 258V261.4" stroke="#000" stroke-width="1.6" fill="none"/><path d="M146.1 255.8Q147.11 258.61 149.7 259.7Q147.11 260.79 146.1 263.6Q145.09 260.79 142.5 259.7Q145.09 258.61 146.1 255.8Z" fill="#fff" stroke="#000" stroke-width="1.6"/><path d="M142.5 259.7H149.7" stroke="#000" stroke-width="1.3"/>
<path d="M136 262.2H148M136 260.5V263.9M148 260.5V263.9" stroke="#000" stroke-width="1.6" fill="none"/><path d="M141.9 258.3Q142.91 261.11 145.5 262.2Q142.91 263.29 141.9 266.1Q140.89 263.29 138.3 262.2Q140.89 261.11 141.9 258.3Z" fill="#fff" stroke="#000" stroke-width="1.6"/><path d="M138.3 262.2H145.5" stroke="#000" stroke-width="1.3"/>
<path d="M133 267.2H145M133 265.5V268.9M145 265.5V268.9" stroke="#000" stroke-width="1.6" fill="none"/><path d="M139.4 263.3Q140.41 266.11 143 267.2Q140.41 268.29 139.4 271.1Q138.39 268.29 135.8 267.2Q138.39 266.11 139.4 263.3Z" fill="#fff" stroke="#000" stroke-width="1.6"/><path d="M135.8 267.2H143" stroke="#000" stroke-width="1.3"/>
<path d="M143 262.2H154M143 260.5V263.9M154 260.5V263.9" stroke="#000" stroke-width="1.6" fill="none"/><path d="M148.6 258.3Q149.61 261.11 152.2 262.2Q149.61 263.29 148.6 266.1Q147.59 263.29 145 262.2Q147.59 261.11 148.6 258.3Z" fill="#fff" stroke="#000" stroke-width="1.6"/><path d="M145 262.2H152.2" stroke="#000" stroke-width="1.3"/>
<path d="M157 271.6H168M157 269.9V273.3M168 269.9V273.3" stroke="#000" stroke-width="1.6" fill="none"/><path d="M162.3 267.7Q163.31 270.51 165.9 271.6Q163.31 272.69 162.3 275.5Q161.29 272.69 158.7 271.6Q161.29 270.51 162.3 267.7Z" fill="#fff" stroke="#000" stroke-width="1.6"/><path d="M158.7 271.6H165.9" stroke="#000" stroke-width="1.3"/>
<path d="M141 278.3H153M141 276.6V280M153 276.6V280" stroke="#000" stroke-width="1.6" fill="none"/><path d="M147.4 274.4Q148.41 277.21 151 278.3Q148.41 279.39 147.4 282.2Q146.39 279.39 143.8 278.3Q146.39 277.21 147.4 274.4Z" fill="#fff" stroke="#000" stroke-width="1.6"/><path d="M143.8 278.3H151" stroke="#000" stroke-width="1.3"/>
<path d="M147 278.3H158M147 276.6V280M158 276.6V280" stroke="#000" stroke-width="1.6" fill="none"/><path d="M152.3 274.4Q153.31 277.21 155.9 278.3Q153.31 279.39 152.3 282.2Q151.29 279.39 148.7 278.3Q151.29 277.21 152.3 274.4Z" fill="#fff" stroke="#000" stroke-width="1.6"/><path d="M148.7 278.3H155.9" stroke="#000" stroke-width="1.3"/>
<path d="M161 284.6H173M161 282.9V286.3M173 282.9V286.3" stroke="#000" stroke-width="1.6" fill="none"/><path d="M167.2 280.7Q168.21 283.51 170.8 284.6Q168.21 285.69 167.2 288.5Q166.19 285.69 163.6 284.6Q166.19 283.51 167.2 280.7Z" fill="#fff" stroke="#000" stroke-width="1.6"/><path d="M163.6 284.6H170.8" stroke="#000" stroke-width="1.3"/>
<path d="M177.1 279.6H189.6M177.1 277.9V281.3M189.6 277.9V281.3" stroke="#000" stroke-width="1.6" fill="none"/><path d="M183.3 275.7Q184.31 278.51 186.9 279.6Q184.31 280.69 183.3 283.5Q182.29 280.69 179.7 279.6Q182.29 278.51 183.3 275.7Z" fill="#fff" stroke="#000" stroke-width="1.6"/><path d="M179.7 279.6H186.9" stroke="#000" stroke-width="1.3"/>
<path d="M332.7 196.1H372.9M332.7 194.4V197.8M372.9 194.4V197.8" stroke="#cbcbcb" stroke-width="1.6" fill="none"/><path d="M353.3 192.3Q354.42 194.77 356.5 196.1Q354.42 197.43 353.3 199.9Q352.18 197.43 350.1 196.1Q352.18 194.77 353.3 192.3Z" fill="#cbcbcb"/>
<path d="M318.5 208H350.7M318.5 206.3V209.7M350.7 206.3V209.7" stroke="#cbcbcb" stroke-width="1.6" fill="none"/><path d="M333.2 204.2Q334.32 206.67 336.4 208Q334.32 209.33 333.2 211.8Q332.08 209.33 330 208Q332.08 206.67 333.2 204.2Z" fill="#cbcbcb"/>
<path d="M281.2 229.8H307.2M281.2 228.1V231.5M307.2 228.1V231.5" stroke="#cbcbcb" stroke-width="1.6" fill="none"/><path d="M293.7 226Q294.82 228.47 296.9 229.8Q294.82 231.13 293.7 233.6Q292.58 231.13 290.5 229.8Q292.58 228.47 293.7 226Z" fill="#cbcbcb"/>
<path d="M317.5 248.5H351.1M317.5 246.8V250.2M351.1 246.8V250.2" stroke="#cbcbcb" stroke-width="1.6" fill="none"/><path d="M333.6 244.7Q334.72 247.17 336.8 248.5Q334.72 249.83 333.6 252.3Q332.48 249.83 330.4 248.5Q332.48 247.17 333.6 244.7Z" fill="#cbcbcb"/>
<path d="M286 269.6H320.8M286 267.9V271.3M320.8 267.9V271.3" stroke="#cbcbcb" stroke-width="1.6" fill="none"/><path d="M297.7 265.8Q298.82 268.27 300.9 269.6Q298.82 270.93 297.7 273.4Q296.58 270.93 294.5 269.6Q296.58 268.27 297.7 265.8Z" fill="#cbcbcb"/>
<path d="M277 275.6H316.5M277 273.9V277.3M316.5 273.9V277.3" stroke="#cbcbcb" stroke-width="1.6" fill="none"/><path d="M297 271.8Q298.12 274.27 300.2 275.6Q298.12 276.93 297 279.4Q295.88 276.93 293.8 275.6Q295.88 274.27 297 271.8Z" fill="#cbcbcb"/>
<path d="M266.8 285.6H284.1M266.8 283.9V287.3M284.1 283.9V287.3" stroke="#cbcbcb" stroke-width="1.6" fill="none"/><path d="M275.5 281.8Q276.62 284.27 278.7 285.6Q276.62 286.93 275.5 289.4Q274.38 286.93 272.3 285.6Q274.38 284.27 275.5 281.8Z" fill="#cbcbcb"/>
<path d="M409.4 294.9H424.2M409.4 293.2V296.6M424.2 293.2V296.6" stroke="#cbcbcb" stroke-width="1.6" fill="none"/><path d="M416.8 291.1Q417.92 293.57 420 294.9Q417.92 296.23 416.8 298.7Q415.68 296.23 413.6 294.9Q415.68 293.57 416.8 291.1Z" fill="#cbcbcb"/>
<path d="M276 294.3H290M276 292.6V296M290 292.6V296" stroke="#cbcbcb" stroke-width="1.6" fill="none"/><path d="M282.9 290.5Q284.02 292.97 286.1 294.3Q284.02 295.63 282.9 298.1Q281.78 295.63 279.7 294.3Q281.78 292.97 282.9 290.5Z" fill="#cbcbcb"/>
<path d="M283 299.3H298M283 297.6V301M298 297.6V301" stroke="#cbcbcb" stroke-width="1.6" fill="none"/><path d="M290.3 295.5Q291.42 297.97 293.5 299.3Q291.42 300.63 290.3 303.1Q289.18 300.63 287.1 299.3Q289.18 297.97 290.3 295.5Z" fill="#cbcbcb"/>
<path d="M285 301.7H300M285 300V303.4M300 300V303.4" stroke="#cbcbcb" stroke-width="1.6" fill="none"/><path d="M292.8 297.9Q293.92 300.37 296 301.7Q293.92 303.03 292.8 305.5Q291.68 303.03 289.6 301.7Q291.68 300.37 292.8 297.9Z" fill="#cbcbcb"/>
<path d="M295 302.2H313.8M295 300.5V303.9M313.8 300.5V303.9" stroke="#cbcbcb" stroke-width="1.6" fill="none"/><path d="M303.9 298.4Q305.02 300.87 307.1 302.2Q305.02 303.53 303.9 306Q302.78 303.53 300.7 302.2Q302.78 300.87 303.9 298.4Z" fill="#cbcbcb"/>
<path d="M325.7 302.2H355.4M325.7 300.5V303.9M355.4 300.5V303.9" stroke="#cbcbcb" stroke-width="1.6" fill="none"/><path d="M339.8 298.4Q340.92 300.87 343 302.2Q340.92 303.53 339.8 306Q338.68 303.53 336.6 302.2Q338.68 300.87 339.8 298.4Z" fill="#cbcbcb"/>
<path d="M247.3 274.8L252.3 279.3L247.3 283.8Z" fill="#000"/>
<path d="M247.3 193.2L250.8 197.2L247.3 201.2" fill="none" stroke="#000" stroke-width="1.2"/>
<path d="M247.3 212.2L250.8 216.2L247.3 220.2" fill="none" stroke="#000" stroke-width="1.2"/>
<path d="M318.5 170.7H349.9M318.5 169V172.4M349.9 169V172.4" stroke="#000" stroke-width="1.6" fill="none"/><path d="M334.6 166.8Q335.61 169.61 338.2 170.7Q335.61 171.79 334.6 174.6Q333.59 171.79 331 170.7Q333.59 169.61 334.6 166.8Z" fill="#fff" stroke="#000" stroke-width="1.6"/><path d="M331 170.7H338.2" stroke="#000" stroke-width="1.3"/>
<path d="M281.2 182.6H307.2M281.2 180.9V184.3M307.2 180.9V184.3" stroke="#000" stroke-width="1.6" fill="none"/><path d="M293.7 178.7Q294.71 181.51 297.3 182.6Q294.71 183.69 293.7 186.5Q292.69 183.69 290.1 182.6Q292.69 181.51 293.7 178.7Z" fill="#fff" stroke="#000" stroke-width="1.6"/><path d="M290.1 182.6H297.3" stroke="#000" stroke-width="1.3"/>
<path d="M296 213H317.1M296 211.3V214.7M317.1 211.3V214.7" stroke="#000" stroke-width="1.6" fill="none"/><path d="M306.6 209.1Q307.61 211.91 310.2 213Q307.61 214.09 306.6 216.9Q305.59 214.09 303 213Q305.59 211.91 306.6 209.1Z" fill="#fff" stroke="#000" stroke-width="1.6"/><path d="M303 213H310.2" stroke="#000" stroke-width="1.3"/>
<path d="M317.1 213.8H350.7M317.1 212.1V215.5M350.7 212.1V215.5" stroke="#000" stroke-width="1.6" fill="none"/><path d="M333.2 209.9Q334.21 212.71 336.8 213.8Q334.21 214.89 333.2 217.7Q332.19 214.89 329.6 213.8Q332.19 212.71 333.2 209.9Z" fill="#fff" stroke="#000" stroke-width="1.6"/><path d="M329.6 213.8H336.8" stroke="#000" stroke-width="1.3"/>
<path d="M332.7 199.5H372.9M332.7 197.8V201.2M372.9 197.8V201.2" stroke="#000" stroke-width="1.6" fill="none"/><path d="M353.3 195.6Q354.31 198.41 356.9 199.5Q354.31 200.59 353.3 203.4Q352.29 200.59 349.7 199.5Q352.29 198.41 353.3 195.6Z" fill="#fff" stroke="#000" stroke-width="1.6"/><path d="M349.7 199.5H356.9" stroke="#000" stroke-width="1.3"/>
<path d="M276.2 235.4H320.5M276.2 233.7V237.1M320.5 233.7V237.1" stroke="#000" stroke-width="1.6" fill="none"/><path d="M298.2 231.5Q299.21 234.31 301.8 235.4Q299.21 236.49 298.2 239.3Q297.19 236.49 294.6 235.4Q297.19 234.31 298.2 231.5Z" fill="#fff" stroke="#000" stroke-width="1.6"/><path d="M294.6 235.4H301.8" stroke="#000" stroke-width="1.3"/>
<path d="M265.6 246H279.2M265.6 244.3V247.7M279.2 244.3V247.7" stroke="#000" stroke-width="1.6" fill="none"/><path d="M273 242.1Q274.01 244.91 276.6 246Q274.01 247.09 273 249.9Q271.99 247.09 269.4 246Q271.99 244.91 273 242.1Z" fill="#fff" stroke="#000" stroke-width="1.6"/><path d="M269.4 246H276.6" stroke="#000" stroke-width="1.3"/>
<path d="M276.2 252.7H304M276.2 251V254.4M304 251V254.4" stroke="#000" stroke-width="1.6" fill="none"/><path d="M285.4 248.8Q286.41 251.61 289 252.7Q286.41 253.79 285.4 256.6Q284.39 253.79 281.8 252.7Q284.39 251.61 285.4 248.8Z" fill="#fff" stroke="#000" stroke-width="1.6"/><path d="M281.8 252.7H289" stroke="#000" stroke-width="1.3"/>
<path d="M280 252.2H304M280 250.5V253.9M304 250.5V253.9" stroke="#000" stroke-width="1.6" fill="none"/><path d="M291.6 248.3Q292.61 251.11 295.2 252.2Q292.61 253.29 291.6 256.1Q290.59 253.29 288 252.2Q290.59 251.11 291.6 248.3Z" fill="#fff" stroke="#000" stroke-width="1.6"/><path d="M288 252.2H295.2" stroke="#000" stroke-width="1.3"/>
<path d="M290 257.2H316.3M290 255.5V258.9M316.3 255.5V258.9" stroke="#000" stroke-width="1.6" fill="none"/><path d="M302.7 253.3Q303.71 256.11 306.3 257.2Q303.71 258.29 302.7 261.1Q301.69 258.29 299.1 257.2Q301.69 256.11 302.7 253.3Z" fill="#fff" stroke="#000" stroke-width="1.6"/><path d="M299.1 257.2H306.3" stroke="#000" stroke-width="1.3"/>
<path d="M281 261.6H300M281 259.9V263.3M300 259.9V263.3" stroke="#000" stroke-width="1.6" fill="none"/><path d="M290.3 257.7Q291.31 260.51 293.9 261.6Q291.31 262.69 290.3 265.5Q289.29 262.69 286.7 261.6Q289.29 260.51 290.3 257.7Z" fill="#fff" stroke="#000" stroke-width="1.6"/><path d="M286.7 261.6H293.9" stroke="#000" stroke-width="1.3"/>
<path d="M292 259.7H312M292 258V261.4M312 258V261.4" stroke="#000" stroke-width="1.6" fill="none"/><path d="M302.7 255.8Q303.71 258.61 306.3 259.7Q303.71 260.79 302.7 263.6Q301.69 260.79 299.1 259.7Q301.69 258.61 302.7 255.8Z" fill="#fff" stroke="#000" stroke-width="1.6"/><path d="M299.1 259.7H306.3" stroke="#000" stroke-width="1.3"/>
<path d="M266.3 266.6H284M266.3 264.9V268.3M284 264.9V268.3" stroke="#000" stroke-width="1.6" fill="none"/><path d="M274.7 262.7Q275.71 265.51 278.3 266.6Q275.71 267.69 274.7 270.5Q273.69 267.69 271.1 266.6Q273.69 265.51 274.7 262.7Z" fill="#fff" stroke="#000" stroke-width="1.6"/><path d="M271.1 266.6H278.3" stroke="#000" stroke-width="1.3"/>
<path d="M275.5 272H295.3M275.5 270.3V273.7M295.3 270.3V273.7" stroke="#000" stroke-width="1.6" fill="none"/><path d="M285.4 268.1Q286.41 270.91 289 272Q286.41 273.09 285.4 275.9Q284.39 273.09 281.8 272Q284.39 270.91 285.4 268.1Z" fill="#fff" stroke="#000" stroke-width="1.6"/><path d="M281.8 272H289" stroke="#000" stroke-width="1.3"/>
<path d="M276 277H293M276 275.3V278.7M293 275.3V278.7" stroke="#000" stroke-width="1.6" fill="none"/><path d="M284.1 273.1Q285.11 275.91 287.7 277Q285.11 278.09 284.1 280.9Q283.09 278.09 280.5 277Q283.09 275.91 284.1 273.1Z" fill="#fff" stroke="#000" stroke-width="1.6"/><path d="M280.5 277H287.7" stroke="#000" stroke-width="1.3"/>
<path d="M283 277.5H300M283 275.8V279.2M300 275.8V279.2" stroke="#000" stroke-width="1.6" fill="none"/><path d="M291.6 273.6Q292.61 276.41 295.2 277.5Q292.61 278.59 291.6 281.4Q290.59 278.59 288 277.5Q290.59 276.41 291.6 273.6Z" fill="#fff" stroke="#000" stroke-width="1.6"/><path d="M288 277.5H295.2" stroke="#000" stroke-width="1.3"/>
<path d="M275.5 279.5H317.5M275.5 277.8V281.2M317.5 277.8V281.2" stroke="#000" stroke-width="1.6" fill="none"/><path d="M304.4 275.6Q305.41 278.41 308 279.5Q305.41 280.59 304.4 283.4Q303.39 280.59 300.8 279.5Q303.39 278.41 304.4 275.6Z" fill="#fff" stroke="#000" stroke-width="1.6"/><path d="M300.8 279.5H308" stroke="#000" stroke-width="1.3"/>
<path d="M265.6 283.2H276.2M265.6 281.5V284.9M276.2 281.5V284.9" stroke="#000" stroke-width="1.6" fill="none"/><path d="M270.5 279.3Q271.51 282.11 274.1 283.2Q271.51 284.29 270.5 287.1Q269.49 284.29 266.9 283.2Q269.49 282.11 270.5 279.3Z" fill="#fff" stroke="#000" stroke-width="1.6"/><path d="M266.9 283.2H274.1" stroke="#000" stroke-width="1.3"/>
<path d="M286.6 284.4H307.6M286.6 282.7V286.1M307.6 282.7V286.1" stroke="#000" stroke-width="1.6" fill="none"/><path d="M296.5 280.5Q297.51 283.31 300.1 284.4Q297.51 285.49 296.5 288.3Q295.49 285.49 292.9 284.4Q295.49 283.31 296.5 280.5Z" fill="#fff" stroke="#000" stroke-width="1.6"/><path d="M292.9 284.4H300.1" stroke="#000" stroke-width="1.3"/>
<path d="M325.7 280H355.4M325.7 278.3V281.7M355.4 278.3V281.7" stroke="#000" stroke-width="1.6" fill="none"/><path d="M339.8 276.1Q340.81 278.91 343.4 280Q340.81 281.09 339.8 283.9Q338.79 281.09 336.2 280Q338.79 278.91 339.8 276.1Z" fill="#fff" stroke="#000" stroke-width="1.6"/><path d="M336.2 280H343.4" stroke="#000" stroke-width="1.3"/>
<path d="M409.4 241.1H424.2M409.4 239.4V242.8M424.2 239.4V242.8" stroke="#000" stroke-width="1.6" fill="none"/><path d="M416.8 237.2Q417.81 240.01 420.4 241.1Q417.81 242.19 416.8 245Q415.79 242.19 413.2 241.1Q415.79 240.01 416.8 237.2Z" fill="#fff" stroke="#000" stroke-width="1.6"/><path d="M413.2 241.1H420.4" stroke="#000" stroke-width="1.3"/>
<text transform="translate(46.8 326.8) scale(0.955 1)" text-anchor="middle" font-size="15.2">0.0</text><text transform="translate(89.01 326.8) scale(0.955 1)" text-anchor="middle" font-size="15.2">0.2</text><text transform="translate(131.22 326.8) scale(0.955 1)" text-anchor="middle" font-size="15.2">0.4</text><text transform="translate(173.43 326.8) scale(0.955 1)" text-anchor="middle" font-size="15.2">0.6</text><text transform="translate(215.64 326.8) scale(0.955 1)" text-anchor="middle" font-size="15.2">0.8</text><text transform="translate(247.3 326.8) scale(0.955 1)" text-anchor="middle" font-size="15.2">0.0</text><text transform="translate(289.51 326.8) scale(0.955 1)" text-anchor="middle" font-size="15.2">0.2</text><text transform="translate(331.72 326.8) scale(0.955 1)" text-anchor="middle" font-size="15.2">0.4</text><text transform="translate(373.93 326.8) scale(0.955 1)" text-anchor="middle" font-size="15.2">0.6</text><text transform="translate(416.14 326.8) scale(0.955 1)" text-anchor="middle" font-size="15.2">0.8</text><text transform="translate(42.6 138.4) scale(0.955 1)" text-anchor="end" font-size="15.2">0.5</text><text transform="translate(42.6 110.9) scale(0.955 1)" text-anchor="end" font-size="15.2">1.0</text><text transform="translate(42.6 83.4) scale(0.955 1)" text-anchor="end" font-size="15.2">1.5</text><text transform="translate(42.6 55.9) scale(0.955 1)" text-anchor="end" font-size="15.2">2.0</text><text transform="translate(42.6 28.4) scale(0.955 1)" text-anchor="end" font-size="15.2">2.5</text><text transform="translate(42.6 290.25) scale(0.955 1)" text-anchor="end" font-size="15.2">1</text><text transform="translate(42.6 263.75) scale(0.955 1)" text-anchor="end" font-size="15.2">2</text><text transform="translate(42.6 237.25) scale(0.955 1)" text-anchor="end" font-size="15.2">3</text><text transform="translate(42.6 210.75) scale(0.955 1)" text-anchor="end" font-size="15.2">4</text><text transform="translate(42.6 184.25) scale(0.955 1)" text-anchor="end" font-size="15.2">5</text><text x="147.05" y="342.7" text-anchor="middle" font-size="14.9">MIR AGN Fraction</text><text x="347.7" y="342.7" text-anchor="middle" font-size="14.9">Bolometric AGN Fraction</text><text transform="translate(10.7 77.9) rotate(-90)" text-anchor="middle" font-size="14.8">Mean H<tspan font-size="9.8" dy="3.3">2</tspan><tspan dy="-3.3"> / Brγ</tspan></text><text transform="translate(23.2 231.0) rotate(-90)" text-anchor="middle" font-size="14.8">Max H<tspan font-size="9.8" dy="3.3">2</tspan><tspan dy="-3.3"> / Brγ</tspan></text><text x="59.3" y="17.9" font-size="10.4" letter-spacing="0.12">τ = 0.18±0.26</text><text x="380.7" y="17.9" font-size="10.4" letter-spacing="0.12">τ = 0.28±0.07</text><text x="59.3" y="168.6" font-size="10.4" letter-spacing="0.12">τ = 0.19±0.24</text><text x="380.7" y="168.6" font-size="10.4" letter-spacing="0.12">τ = 0.29±0.26</text>
</svg></body></html>
